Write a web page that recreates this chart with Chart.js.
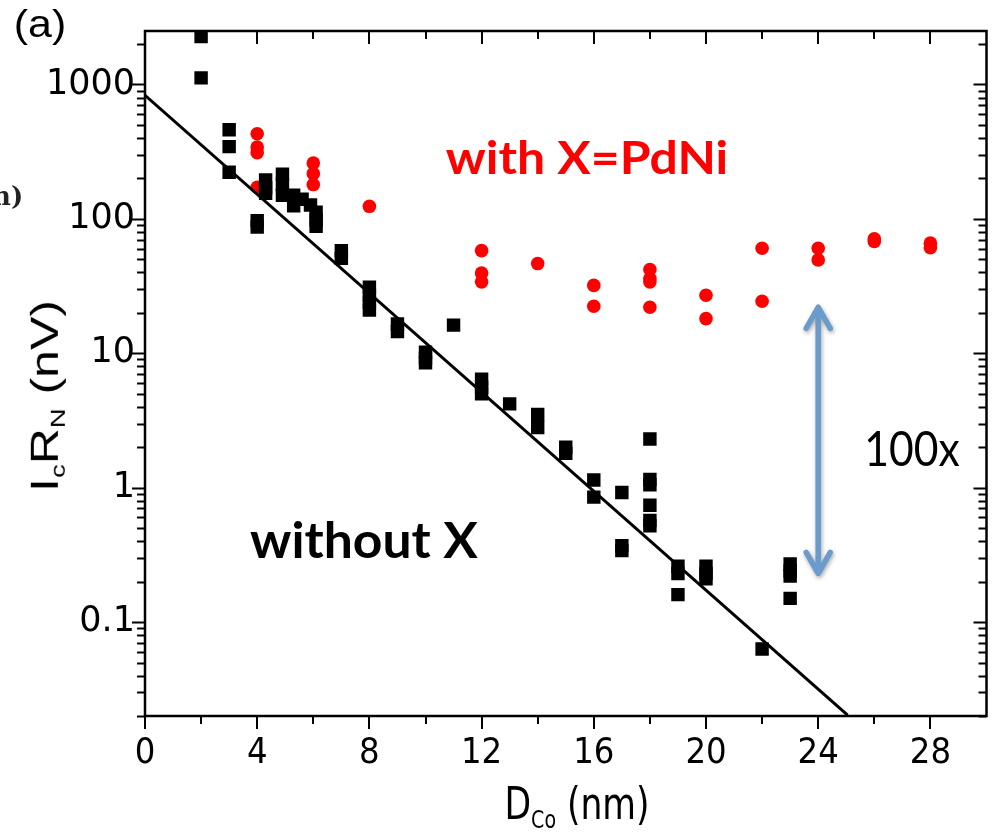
<!DOCTYPE html>
<html lang="en">
<head>
  <meta charset="UTF-8">
  <title>IcRN vs DCo</title>
  <script src="https://cdn.jsdelivr.net/npm/chart.js"></script>
  <style>
    body { margin: 0; background: #fff; }
    #wrap { position: relative; width: 996px; height: 834px; overflow: hidden; }
    #chart { position: absolute; left: 0; top: 0; }
    .lbl {
      position: absolute;
      white-space: nowrap;
      line-height: 1;
      color: #000;
    }
    .sub { font-size: 55%; vertical-align: -0.35em; }
    #panel { left: 40px; top: 24px; font: 38px "Liberation Sans", Arial, sans-serif; }
    #pdni { left: 587px; top: 156px; font: bold 46px Lato, "Open Sans", sans-serif; color: #ff0000; }
    #plain { left: 364px; top: 539px; font: bold 50px Lato, "Open Sans", sans-serif; }
    #ratio { left: 912px; top: 447px; font: 48px Lato, "Open Sans", sans-serif; }
    #ytitle { left: 47px; top: 396px; font: 38px "Liberation Sans", Arial, sans-serif; }
    #xtitle { left: 577px; top: 806px; font: 44px "Liberation Sans Narrow", "DejaVu Sans Condensed", sans-serif; }
    #stray { left: -8px; top: 181px; font: bold 26px "DejaVu Serif", serif; color: #222; }
  </style>
</head>
<body>
  <div id="wrap">
    <canvas id="chart" width="996" height="834"></canvas>
    <div class="lbl" id="stray">n)</div>
    <div class="lbl" id="panel" data-w="52">(a)</div>
    <div class="lbl" id="pdni" data-w="282">with X=PdNi</div>
    <div class="lbl" id="plain" data-w="228">without X</div>
    <div class="lbl" id="ratio" data-w="95">100x</div>
    <div class="lbl" id="ytitle" data-w="192" data-rot="1">I<span class="sub">c</span>R<span class="sub">N</span> (nV)</div>
    <div class="lbl" id="xtitle" data-w="145">D<span class="sub">Co</span> (nm)</div>
  </div>

  <script>
    // without X (black squares)
    const plainD = [2, 2, 3, 3, 3, 4, 4, 4.3, 4.3, 4.3, 4.9, 4.9, 4.9, 5.3, 5.3, 5.6, 5.9, 6.1, 6.1, 6.1,
      7, 7, 8, 8, 8, 8, 9, 9, 10, 10, 10, 11, 12, 12, 12, 13, 14, 14, 15, 15, 16, 16, 17, 17, 17,
      18, 18, 18, 18, 18, 18, 19, 19, 19, 20, 20, 20, 22, 23, 23, 23, 23];
    const plainIcRn = [2270, 1120, 460, 345, 222, 97, 87, 195, 170, 155, 215, 180, 150, 150, 125, 140, 127, 112, 98, 88,
      58, 51, 31, 27, 24, 21, 16.5, 14.5, 10.2, 9.2, 8.5, 16.2, 6.4, 5.6, 5.0, 4.2, 3.5, 2.8, 2.0, 1.8, 1.14, 0.85, 0.92, 0.37, 0.34,
      2.3, 1.15, 1.05, 0.74, 0.57, 0.52, 0.26, 0.23, 0.16, 0.26, 0.23, 0.21, 0.063, 0.27, 0.24, 0.22, 0.15];

    // with X=PdNi (red circles)
    const pdniD = [4, 4, 4, 4, 6, 6, 6, 8, 12, 12, 12, 14, 16, 16, 18, 18, 18, 18, 20, 20, 22, 22, 24, 24, 26, 26, 28, 28];
    const pdniIcRn = [430, 342, 311, 172, 260, 217, 180, 124, 58, 39.5, 34, 46.5, 32, 22.4, 42, 36, 34, 22, 27, 18.1,
      60.5, 24.4, 60.5, 49.5, 71, 68, 66, 61];

    // exponential fit (straight on log axis)
    const fitD = [0, 25.05];
    const fitIcRn = [830, 0.0203];

    // 100x arrow
    const arrowD = [24, 24];
    const arrowIcRn = [22, 0.23];

    const xTicks = [0, 4, 8, 12, 16, 20, 24, 28];
    const yTicks = [0.1, 1, 10, 100, 1000];

    const pts = (xs, ys) => xs.map((x, i) => ({ x: x, y: ys[i] }));

    const arrowPlugin = {
      id: 'arrow',
      afterDatasetsDraw(chart) {
        const { ctx, scales: { x, y } } = chart;
        const px = x.getPixelForValue(arrowD[0]);
        const top = y.getPixelForValue(arrowIcRn[0]);
        const bot = y.getPixelForValue(arrowIcRn[1]);
        ctx.save();
        ctx.strokeStyle = '#6a9bcc';
        ctx.lineWidth = 5.5;
        ctx.lineCap = 'round';
        ctx.lineJoin = 'round';
        ctx.shadowColor = 'rgba(0,0,0,0.35)';
        ctx.shadowBlur = 4;
        ctx.shadowOffsetX = 1;
        ctx.shadowOffsetY = 2;
        ctx.beginPath();
        ctx.moveTo(px, top + 2);
        ctx.lineTo(px, bot - 2);
        ctx.moveTo(px - 12, top + 21);
        ctx.lineTo(px, top);
        ctx.lineTo(px + 12, top + 21);
        ctx.moveTo(px - 12, bot - 21);
        ctx.lineTo(px, bot);
        ctx.lineTo(px + 12, bot - 21);
        ctx.stroke();
        ctx.restore();
      }
    };

    // box with ticks: out on left/bottom, in on top/right
    const framePlugin = {
      id: 'frame',
      afterDraw(chart) {
        const { ctx, chartArea: a, scales: { x, y } } = chart;
        ctx.save();
        ctx.strokeStyle = '#000';
        ctx.lineWidth = 2;
        ctx.beginPath();
        for (let v = 0; v < 30; v += 2) {
          const p = Math.round(x.getPixelForValue(v));
          const len = v % 4 === 0 ? 13 : 8;
          ctx.moveTo(p, a.bottom); ctx.lineTo(p, a.bottom + len);
          ctx.moveTo(p, a.top); ctx.lineTo(p, a.top + len);
        }
        for (let d = 0.01; d < 5000; d *= 10) {
          for (let m = 1; m < 10; m++) {
            const v = m * d;
            if (v < y.min || v > y.max) continue;
            const p = Math.round(y.getPixelForValue(v)) + 0.5;
            const len = m === 1 ? 13 : 8;
            ctx.moveTo(a.left, p); ctx.lineTo(a.left - len, p);
            ctx.moveTo(a.right, p); ctx.lineTo(a.right - len, p);
          }
        }
        ctx.stroke();
        ctx.lineWidth = 2.5;
        ctx.strokeRect(a.left, a.top, a.right - a.left, a.bottom - a.top);
        ctx.restore();
      }
    };

    new Chart(document.getElementById('chart'), {
      type: 'scatter',
      data: {
        datasets: [
          {
            label: 'fit',
            data: pts(fitD, fitIcRn),
            showLine: true,
            borderColor: '#000',
            borderWidth: 3,
            pointRadius: 0
          },
          {
            label: 'without X',
            data: pts(plainD, plainIcRn),
            pointStyle: 'rect',
            pointRadius: 9.5,
            backgroundColor: '#000',
            borderWidth: 0
          },
          {
            label: 'with X=PdNi',
            data: pts(pdniD, pdniIcRn),
            pointStyle: 'circle',
            pointRadius: 6.8,
            backgroundColor: '#ff0000',
            borderWidth: 0
          }
        ]
      },
      options: {
        responsive: false,
        animation: false,
        events: [],
        layout: { padding: { top: 30, right: 7, left: 0, bottom: 0 } },
        plugins: { legend: { display: false }, tooltip: { enabled: false } },
        scales: {
          x: {
            type: 'linear',
            min: 0,
            max: 30,
            grid: { display: false, drawTicks: false },
            border: { display: false },
            afterBuildTicks: s => { s.ticks = xTicks.map(v => ({ value: v })); },
            afterFit: s => { s.height = 118; },
            ticks: {
              color: '#000',
              padding: 16,
              maxRotation: 0,
              autoSkip: false,
              font: { family: '"Liberation Sans Narrow", "DejaVu Sans Condensed", sans-serif', size: 36 }
            }
          },
          y: {
            type: 'logarithmic',
            min: 0.02,
            max: 2500,
            grid: { display: false, drawTicks: false },
            border: { display: false },
            afterBuildTicks: s => { s.ticks = yTicks.map(v => ({ value: v })); },
            afterFit: s => { s.width = 145; },
            ticks: {
              color: '#000',
              padding: 10,
              autoSkip: false,
              callback: v => String(v),
              font: { family: '"DejaVu Sans", sans-serif', size: 35 }
            }
          }
        }
      },
      plugins: [arrowPlugin, framePlugin]
    });

    // stretch the overlay texts to the measured widths
    document.querySelectorAll('[data-w]').forEach(el => {
      const k = +el.dataset.w / el.offsetWidth;
      const rot = el.dataset.rot ? ' rotate(-90deg)' : '';
      el.style.transform = 'translate(-50%, -50%)' + rot + ' scaleX(' + k.toFixed(3) + ')';
    });
  </script>
</body>
</html>
